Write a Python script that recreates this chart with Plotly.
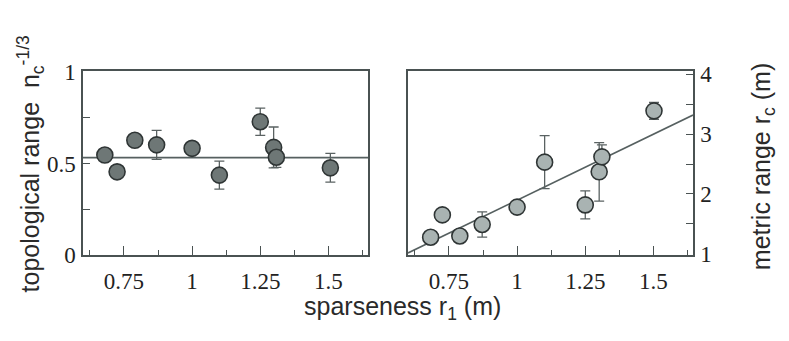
import plotly.graph_objects as go
import numpy as np

# ---- data ----
sparseness = [0.680, 0.725, 0.790, 0.870, 1.000, 1.100, 1.250, 1.299, 1.309, 1.507]
topo_range = [0.546, 0.454, 0.627, 0.602, 0.583, 0.436, 0.729, 0.588, 0.534, 0.476]
topo_err = [0.0, 0.0, 0.0, 0.080, 0.0, 0.077, 0.075, 0.112, 0.056, 0.079]
topo_mean = 0.532

sparseness_m = [0.683, 0.726, 0.790, 0.872, 1.000, 1.101, 1.250, 1.301, 1.311, 1.502]
metric_range = [1.275, 1.649, 1.296, 1.488, 1.779, 2.532, 1.816, 2.370, 2.620, 3.390]
metric_err = [0.0, 0.0, 0.0, 0.21, 0.0, 0.445, 0.235, 0.49, 0.20, 0.14]
fit_slope = 2.21
fit_intercept = -0.315

x_range = [0.60, 1.645]
x_tickvals = [0.75, 1, 1.25, 1.5]
x_ticktext = ["0.75", "1", "1.25", "1.5"]
y1_tickvals = [0, 0.5, 1]
y1_ticktext = ["0", "0.5", "1"]
y2_tickvals = [1, 2, 3, 4]
y2_ticktext = ["1", "2", "3", "4"]

# ---- style ----
axis_col = "#4a5252"
edge_col = "#2f3535"
line_col = "#566060"
tick_font = dict(family="Liberation Serif, Times New Roman, serif", size=23, color="#222222")
title_font = dict(family="Liberation Sans, Arial, sans-serif", size=25, color="#2a2a2a")

fig = go.Figure()

xline = np.array(x_range)
fig.add_trace(go.Scatter(x=xline, y=[topo_mean, topo_mean], mode="lines",
                         line=dict(color=line_col, width=1.6), xaxis="x", yaxis="y",
                         showlegend=False, hoverinfo="skip"))
fig.add_trace(go.Scatter(x=sparseness, y=topo_range, mode="markers",
                         marker=dict(size=16, color="#6e7776", line=dict(color=edge_col, width=1.6)),
                         error_y=dict(type="data", array=topo_err, color="#5a6262", thickness=1.3, width=5),
                         xaxis="x", yaxis="y", showlegend=False))

fig.add_trace(go.Scatter(x=xline, y=fit_intercept + fit_slope * xline, mode="lines",
                         line=dict(color=line_col, width=1.6), xaxis="x2", yaxis="y2",
                         showlegend=False, hoverinfo="skip"))
fig.add_trace(go.Scatter(x=sparseness_m, y=metric_range, mode="markers",
                         marker=dict(size=16, color="#a9b3b2", line=dict(color=edge_col, width=1.6)),
                         error_y=dict(type="data", array=metric_err, color="#5a6262", thickness=1.3, width=5),
                         xaxis="x2", yaxis="y2", showlegend=False))

W, H = 789, 341
ydom = [1 - 262 / H, 1 - 65 / H]

def xaxis(dom, anchor):
    return dict(domain=dom, anchor=anchor, range=x_range, tickmode="array",
                tickvals=x_tickvals, ticktext=x_ticktext, ticks="inside", ticklen=9,
                tickcolor=axis_col, tickwidth=1.2, showline=True, mirror=True,
                linecolor=axis_col, linewidth=1.5, showgrid=False, zeroline=False,
                tickfont=tick_font, ticklabelstandoff=5,
                minor=dict(dtick=0.125, tick0=0.125, ticks="inside", ticklen=5,
                           tickcolor=axis_col, tickwidth=1.2, showgrid=False))

fig.update_layout(
    width=W, height=H, margin=dict(l=0, r=0, t=0, b=0),
    paper_bgcolor="white", plot_bgcolor="white",
    xaxis=xaxis([83 / W, 368 / W], "y"),
    xaxis2=xaxis([408 / W, 693 / W], "y2"),
    yaxis=dict(domain=ydom, anchor="x", range=[0, 1.005], tickmode="array",
               tickvals=y1_tickvals, ticktext=y1_ticktext, ticks="inside", ticklen=7,
               tickcolor=axis_col, tickwidth=1.2, showline=True, mirror=True,
               linecolor=axis_col, linewidth=1.5, showgrid=False, zeroline=False,
               tickfont=tick_font, ticklabelstandoff=1,
               minor=dict(dtick=0.25, tick0=0, ticks="inside", ticklen=7,
                          tickcolor=axis_col, tickwidth=1.2, showgrid=False)),
    yaxis2=dict(domain=ydom, anchor="x2", side="right", range=[0.985, 4.05], tickmode="array",
                tickvals=y2_tickvals, ticktext=y2_ticktext, ticks="inside", ticklen=7,
                tickcolor=axis_col, tickwidth=1.2, showline=True, mirror=True,
                linecolor=axis_col, linewidth=1.5, showgrid=False, zeroline=False,
                tickfont=tick_font, ticklabelstandoff=1,
                minor=dict(dtick=0.5, tick0=0, ticks="inside", ticklen=7,
                           tickcolor=axis_col, tickwidth=1.2, showgrid=False)),
    annotations=[
        dict(text="sparseness r<sub>1</sub> (m)", x=403 / W, y=1 - 320 / H,
             xref="paper", yref="paper", showarrow=False, font=title_font,
             xanchor="center", yanchor="middle"),
        dict(text="topological range  n<sub>c</sub><sup>-1/3</sup>", x=31 / W, y=1 - 165 / H,
             xref="paper", yref="paper", showarrow=False, font=title_font, textangle=-90,
             xanchor="center", yanchor="middle"),
        dict(text="metric range r<sub>c</sub> (m)", x=763 / W, y=1 - 168 / H,
             xref="paper", yref="paper", showarrow=False, font=title_font, textangle=-90,
             xanchor="center", yanchor="middle"),
    ],
)

fig.write_html("out.html", config={"displayModeBar": False},
               post_script="document.body.style.margin='0';")
